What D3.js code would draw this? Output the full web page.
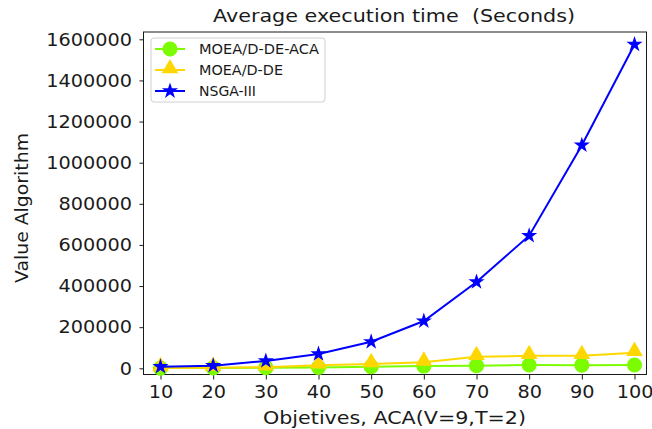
<!DOCTYPE html>
<html>
<head>
<meta charset="utf-8">
<script src="https://cdn.jsdelivr.net/npm/d3@7"></script>
<style>
  html, body { margin: 0; padding: 0; background: #fff; }
  svg { display: block; font-family: "DejaVu Sans", sans-serif; }
  text { white-space: pre; }
</style>
</head>
<body>
<svg id="chart" width="652" height="429"></svg>
<script>
// Objective counts on the x axis
const objectives = [10, 20, 30, 40, 50, 60, 70, 80, 90, 100];

// Average execution time per algorithm
const moeaDeAca = [1000, 2000, 3000, 4000, 8000, 11000, 13000, 16000, 15000, 16000];
const moeaDe    = [2000, 3000, 5000, 15000, 21000, 29000, 56000, 61000, 61000, 76000];
const nsga3     = [8000, 13000, 36000, 70000, 129000, 230000, 420000, 645000, 1085000, 1575000];

const yTicks = [0, 200000, 400000, 600000, 800000, 1000000, 1200000, 1400000, 1600000];

const series = [
  { name: "MOEA/D-DE-ACA", values: moeaDeAca, color: "#7CFC00", marker: "circle" },
  { name: "MOEA/D-DE",     values: moeaDe,    color: "#FFD700", marker: "triangle" },
  { name: "NSGA-III",      values: nsga3,     color: "#0000FF", marker: "star" }
];

const svg = d3.select("#chart");
const frame = { left: 143.5, right: 646.5, top: 32, bottom: 374.5 };

const x = d3.scaleLinear().domain([10, 100]).range([160.5, 634.5]);
const y = d3.scaleLinear().domain([0, 1600000]).range([368.3, 39.3]);

const textColor = "#1a1a1a";

// Widen glyphs horizontally by a factor (font renders slightly wide in this figure)
function widen(sel, factor) {
  sel.each(function () {
    const w = this.getComputedTextLength();
    d3.select(this).attr("textLength", w * factor).attr("lengthAdjust", "spacingAndGlyphs");
  });
}

// Axes
const xAxis = d3.axisBottom(x).tickValues(objectives).tickSize(5).tickPadding(5.5).tickFormat(d3.format("d"));
const yAxis = d3.axisLeft(y).tickValues(yTicks).tickSize(4).tickPadding(7.5).tickFormat(d3.format("d"));

const gx = svg.append("g").attr("transform", `translate(0,${frame.bottom})`).call(xAxis);
const gy = svg.append("g").attr("transform", `translate(${frame.left},0)`).call(yAxis);
[gx, gy].forEach(g => {
  g.select(".domain").remove();
  g.selectAll(".tick line").attr("stroke", textColor).attr("stroke-width", 1);
  g.selectAll(".tick text").attr("fill", textColor)
    .style("font-size", "18px").style("font-family", "DejaVu Sans");
  widen(g.selectAll(".tick text"), 1.07);
});

// Plot frame
svg.append("rect")
  .attr("x", frame.left).attr("y", frame.top)
  .attr("width", frame.right - frame.left).attr("height", frame.bottom - frame.top)
  .attr("fill", "none").attr("stroke", textColor).attr("stroke-width", 1);

// Marker shapes
function markerPath(kind) {
  if (kind === "circle") return d3.symbol(d3.symbolCircle, 180)();
  if (kind === "triangle") return d3.symbol(d3.symbolTriangle, 120)();
  // five-pointed star
  const R = 8.5, r = R * 0.381966;
  const pts = [];
  for (let i = 0; i < 10; i++) {
    const a = -Math.PI / 2 + i * Math.PI / 5;
    const rr = i % 2 === 0 ? R : r;
    pts.push([rr * Math.cos(a), rr * Math.sin(a)]);
  }
  return "M" + pts.map(p => p.join(",")).join("L") + "Z";
}

const line = d3.line().x((d, i) => x(objectives[i])).y(d => y(d));

const plot = svg.append("g");
series.forEach(s => {
  const g = plot.append("g");
  g.append("path")
    .attr("d", line(s.values))
    .attr("fill", "none").attr("stroke", s.color).attr("stroke-width", 2);
  const dy = s.marker === "triangle" ? -1.5 : 0;
  g.selectAll("path.m").data(s.values).enter().append("path")
    .attr("class", "m")
    .attr("d", markerPath(s.marker))
    .attr("transform", (d, i) => `translate(${x(objectives[i])},${y(d) + dy})`)
    .attr("fill", s.color);
});

// Title
svg.append("text")
  .attr("x", 394).attr("y", 22)
  .attr("text-anchor", "middle").attr("fill", textColor)
  .attr("textLength", 362).attr("lengthAdjust", "spacingAndGlyphs")
  .style("font-size", "18px")
  .text("Average execution time  (Seconds)");

// Axis titles
svg.append("text")
  .attr("x", 394.5).attr("y", 423.5)
  .attr("text-anchor", "middle").attr("fill", textColor)
  .attr("textLength", 263).attr("lengthAdjust", "spacingAndGlyphs")
  .style("font-size", "18px")
  .text("Objetives, ACA(V=9,T=2)");

svg.append("text")
  .attr("transform", `translate(28,208) rotate(-90)`)
  .attr("text-anchor", "middle").attr("fill", textColor)
  .attr("textLength", 150).attr("lengthAdjust", "spacingAndGlyphs")
  .style("font-size", "18px")
  .text("Value Algorithm");

// Legend
const legendWidths = [120, 84, 57];
const legend = svg.append("g").attr("transform", "translate(151,38)");
legend.append("rect")
  .attr("width", 174).attr("height", 64).attr("rx", 3)
  .attr("fill", "#fff").attr("fill-opacity", 0.8)
  .attr("stroke", "#d0d0d0").attr("stroke-width", 1);
series.forEach((s, i) => {
  const ly = 11 + i * 21;
  const row = legend.append("g").attr("transform", `translate(0,${ly})`);
  row.append("line").attr("x1", 4).attr("x2", 34).attr("y1", 0).attr("y2", 0)
    .attr("stroke", s.color).attr("stroke-width", 2);
  row.append("path").attr("d", markerPath(s.marker))
    .attr("transform", `translate(19,${s.marker === "triangle" ? -1.5 : 0})`)
    .attr("fill", s.color);
  row.append("text").attr("x", 48).attr("y", 5)
    .attr("fill", textColor).style("font-size", "14px")
    .attr("textLength", legendWidths[i]).attr("lengthAdjust", "spacingAndGlyphs")
    .text(s.name);
});
</script>
</body>
</html>
